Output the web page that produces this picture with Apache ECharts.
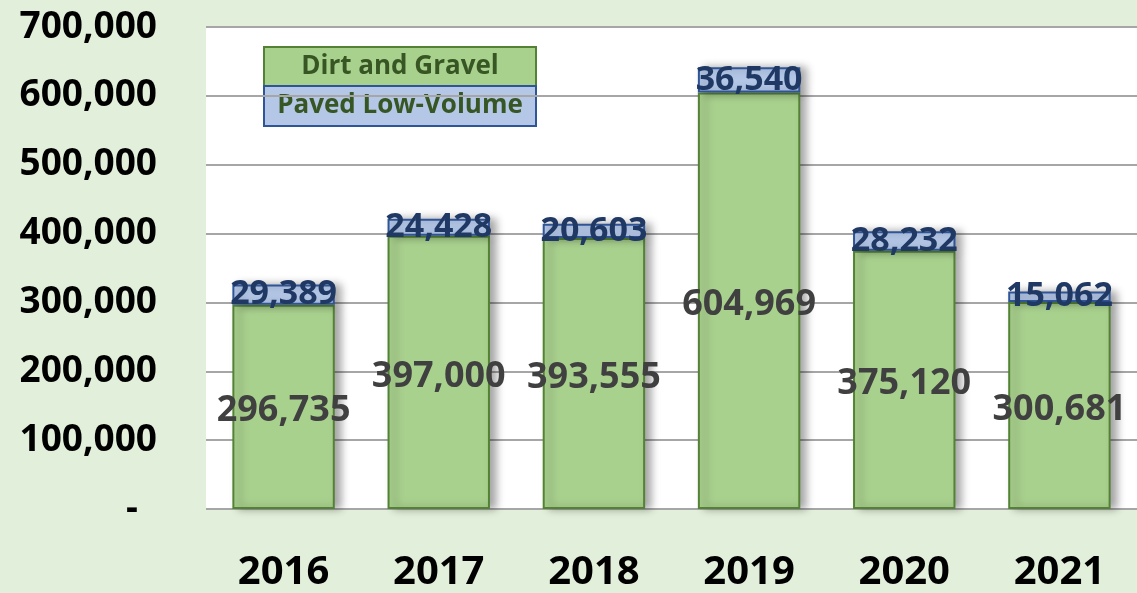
<!DOCTYPE html>
<html>
<head>
<meta charset="utf-8">
<script src="https://cdn.jsdelivr.net/npm/echarts@6/dist/echarts.min.js"></script>
<style>
  html, body { margin: 0; padding: 0; background: #e2efda; }
  #chart { width: 1137px; height: 593px; }
</style>
</head>
<body>
<div id="chart"></div>
<script>
// 数据
const years = ['2016', '2017', '2018', '2019', '2020', '2021'];
const dirtGravel = [296735, 397000, 393555, 604969, 375120, 300681];
const pavedLowVolume = [29389, 24428, 20603, 36540, 28232, 15062];
const yTickLabels = ['-', '100,000', '200,000', '300,000', '400,000', '500,000', '600,000', '700,000'];
const seriesNames = ['Dirt and Gravel', 'Paved Low-Volume'];

const fmt = (v) => v.toLocaleString('en-US');

const myChart = echarts.init(document.getElementById('chart'));
myChart.setOption({
  backgroundColor: '#e2efda',
  animation: false,
  textStyle: { fontFamily: 'Open Sans' },
  grid: {
    left: 206,
    right: 0,
    top: 27,
    bottom: 79,
    show: true,
    backgroundColor: '#ffffff',
    borderWidth: 0
  },
  xAxis: {
    type: 'category',
    data: years,
    axisLine: { show: false },
    axisTick: { show: false },
    axisLabel: {
      fontSize: 40,
      fontWeight: 'bold',
      color: '#000',
      margin: 44
    }
  },
  yAxis: {
    type: 'value',
    min: 0,
    max: 700000,
    interval: 100000,
    axisLine: { show: false },
    axisTick: { show: false },
    splitLine: { lineStyle: { color: '#a6a6a6', width: 2 } },
    axisLabel: {
      fontSize: 37,
      fontWeight: 'bold',
      color: '#000',
      margin: 49,
      formatter: function (value) {
        const label = yTickLabels[Math.round(value / 100000)];
        return label === '-' ? '{dash|-}' : label;
      },
      rich: {
        dash: { fontSize: 37, fontWeight: 'bold', color: '#000', padding: [0, 19, 0, 0] }
      }
    }
  },
  series: [
    {
      name: seriesNames[0],
      type: 'bar',
      stack: 'total',
      barWidth: '66%',
      data: dirtGravel,
      itemStyle: {
        color: '#a9d18e',
        borderColor: '#548235',
        borderWidth: 2,
        shadowColor: 'rgba(0,0,0,0.35)',
        shadowBlur: 8,
        shadowOffsetX: 6
      },
      label: {
        show: true,
        position: 'inside',
        offset: [0, 4],
        formatter: (p) => fmt(p.value),
        fontSize: 36,
        fontWeight: 'bold',
        color: '#404040'
      }
    },
    {
      name: seriesNames[1],
      type: 'bar',
      stack: 'total',
      data: pavedLowVolume,
      itemStyle: {
        color: '#b4c7e7',
        borderColor: '#2f5597',
        borderWidth: 2,
        shadowColor: 'rgba(0,0,0,0.35)',
        shadowBlur: 8,
        shadowOffsetX: 6
      },
      label: {
        show: true,
        position: 'inside',
        formatter: (p) => fmt(p.value),
        fontSize: 34,
        fontWeight: 'bold',
        color: '#1f3864'
      }
    }
  ],
  graphic: [
    {
      type: 'group',
      left: 263,
      top: 46,
      children: [
        {
          type: 'rect',
          shape: { x: 0, y: 0, width: 272, height: 39 },
          style: { fill: '#a9d18e', stroke: '#548235', lineWidth: 2 }
        },
        {
          type: 'text',
          x: 136, y: 20,
          style: {
            text: seriesNames[0], fill: '#375623', font: 'bold 26px "Open Sans"',
            align: 'center', verticalAlign: 'middle'
          }
        },
        {
          type: 'rect',
          shape: { x: 0, y: 39, width: 272, height: 40 },
          style: { fill: '#b4c7e7', stroke: '#2f5597', lineWidth: 2 }
        },
        {
          type: 'text',
          x: 136, y: 59,
          style: {
            text: seriesNames[1], fill: '#375623', font: 'bold 26px "Open Sans"',
            align: 'center', verticalAlign: 'middle'
          }
        }
      ]
    }
  ]
});
window.onresize = function () {
  myChart.resize();
};
</script>
</body>
</html>
